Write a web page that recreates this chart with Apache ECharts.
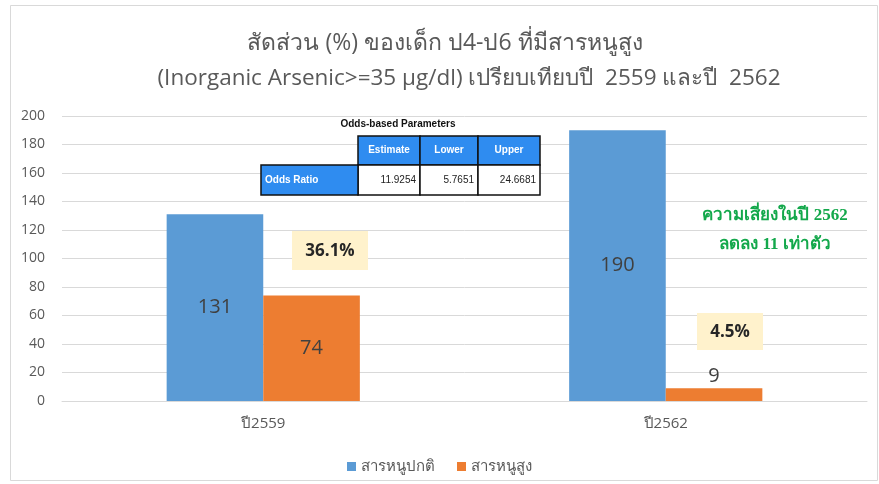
<!DOCTYPE html>
<html><head><meta charset="utf-8">
<script src="https://cdn.jsdelivr.net/npm/echarts@6/dist/echarts.min.js"></script>
<style>html,body{margin:0;padding:0;background:#fff}#c{width:879px;height:484px}</style>
</head><body><div id="c"></div>
<script>
const categories = ['ปี2559', 'ปี2562'];
const seriesNames = ['สารหนูปกติ', 'สารหนูสูง'];
const normalValues = [131, 190];
const highValues = [74, 9];
const yTicks = [0, 200, 20];
const titleLines = ['สัดส่วน (%) ของเด็ก ป4-ป6 ที่มีสารหนูสูง', '(Inorganic Arsenic>=35 μg/dl) เปรียบเทียบปี  2559 และปี  2562'];
const tableHeaders = ['Estimate', 'Lower', 'Upper'];
const tableRowLabel = 'Odds Ratio';
const tableValues = ['11.9254', '5.7651', '24.6681'];

const chart = echarts.init(document.getElementById('c'));
const font = '"Open Sans", "Noto Sans", sans-serif';
const blue = '#5b9bd5', orange = '#ed7d31';
const tblBlue = '#2f8cf0';

const gfx = [];
gfx.push({type:'rect', shape:{x:10.5,y:5.5,width:867,height:475}, style:{fill:'none', stroke:'#d9d9d9', lineWidth:1}, silent:true, z:-1});
// table
gfx.push({type:'text', x:398, y:124, style:{text:'Odds-based Parameters', font:'bold 10px Arial, "Liberation Sans"', fill:'#111', textAlign:'center', textVerticalAlign:'middle'}, z:10});
const cols = [[358,62],[420,58],[478,62]];
tableHeaders.forEach((h,i)=>{
  gfx.push({type:'rect', shape:{x:cols[i][0],y:136,width:cols[i][1],height:29}, style:{fill:tblBlue, stroke:'#111', lineWidth:1.5}, z:10});
  gfx.push({type:'text', x:cols[i][0]+cols[i][1]/2, y:150.5, style:{text:h, font:'bold 10px Arial, "Liberation Sans"', fill:'#fff', textAlign:'center', textVerticalAlign:'middle'}, z:11});
  gfx.push({type:'rect', shape:{x:cols[i][0],y:165,width:cols[i][1],height:30}, style:{fill:'#fff', stroke:'#111', lineWidth:1.5}, z:10});
  gfx.push({type:'text', x:cols[i][0]+cols[i][1]-4, y:180, style:{text:tableValues[i], font:'10px Arial, "Liberation Sans"', fill:'#222', textAlign:'right', textVerticalAlign:'middle'}, z:11});
});
gfx.push({type:'rect', shape:{x:261,y:165,width:97,height:30}, style:{fill:tblBlue, stroke:'#111', lineWidth:1.5}, z:10});
gfx.push({type:'text', x:265, y:180, style:{text:tableRowLabel, font:'bold 10px Arial, "Liberation Sans"', fill:'#fff', textAlign:'left', textVerticalAlign:'middle'}, z:11});
// percentage boxes
gfx.push({type:'rect', shape:{x:292,y:231,width:76,height:39}, style:{fill:'#fff2cc'}, z:10});
gfx.push({type:'text', x:330, y:251, style:{text:'36.1%', font:'bold 17px "Open Sans", "Noto Sans", sans-serif', fill:'#262626', textAlign:'center', textVerticalAlign:'middle'}, z:11});
gfx.push({type:'rect', shape:{x:697,y:313,width:66,height:37}, style:{fill:'#fff2cc'}, z:10});
gfx.push({type:'text', x:730, y:332, style:{text:'4.5%', font:'bold 17px "Open Sans", "Noto Sans", sans-serif', fill:'#262626', textAlign:'center', textVerticalAlign:'middle'}, z:11});
// green note
gfx.push({type:'text', x:775, y:216, style:{text:'ความเสี่ยงในปี 2562', font:'bold 17px "Liberation Serif", serif', fill:'#13a84b', textAlign:'center', textVerticalAlign:'middle'}, z:11});
gfx.push({type:'text', x:775, y:245, style:{text:'ลดลง 11 เท่าตัว', font:'bold 17px "Liberation Serif", serif', fill:'#13a84b', textAlign:'center', textVerticalAlign:'middle'}, z:11});

chart.setOption({
  backgroundColor:'#fff',
  animation:false,
  title:[
    {text:titleLines[0], left:440, top:27, textAlign:'center',
     textStyle:{fontFamily:font, fontSize:23, fontWeight:'normal', color:'#595959'}},
    {text:titleLines[1], left:464, top:62, textAlign:'center',
     textStyle:{fontFamily:font, fontSize:22.5, fontWeight:'normal', color:'#595959'}}
  ],
  legend:{
    data:seriesNames, bottom:5, left:'center', itemWidth:9, itemHeight:9, icon:'rect', itemGap:22,
    textStyle:{fontFamily:font, fontSize:15, color:'#595959'}
  },
  grid:{left:62, right:12, top:116, bottom:83},
  xAxis:{
    type:'category', data:categories,
    axisLine:{lineStyle:{color:'#d9d9d9'}}, axisTick:{show:false},
    axisLabel:{fontFamily:font, fontSize:15, color:'#595959', margin:15}
  },
  yAxis:{
    type:'value', min:yTicks[0], max:yTicks[1], interval:yTicks[2],
    axisLine:{show:false}, axisTick:{show:false},
    splitLine:{lineStyle:{color:'#d9d9d9'}},
    axisLabel:{fontFamily:font, fontSize:14, color:'#595959', margin:17}
  },
  series:[
    {name:seriesNames[0], type:'bar', data:normalValues, barWidth:'24%', barGap:'0%',
     itemStyle:{color:blue},
     label:{show:true, position:'inside', fontFamily:font, fontSize:20, color:'#404040'}},
    {name:seriesNames[1], type:'bar',
     data:[{value:highValues[0]},{value:highValues[1], label:{position:'top', distance:2}}],
     barWidth:'24%',
     itemStyle:{color:orange},
     label:{show:true, position:'inside', fontFamily:font, fontSize:20, color:'#404040'}}
  ],
  graphic:gfx
});
</script></body></html>
